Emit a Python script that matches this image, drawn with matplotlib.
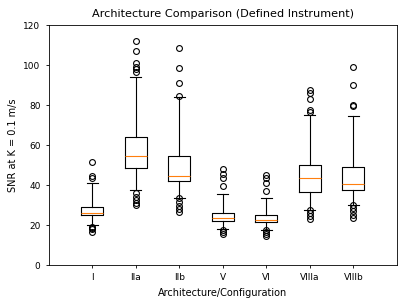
import matplotlib
matplotlib.use('Agg')
import matplotlib.pyplot as plt

# Configuration labels
labels = ['I', 'IIa', 'IIb', 'V', 'VI', 'VIIIa', 'VIIIb']

# Box statistics
q1 = [24.8, 48.7, 42.0, 22.0, 21.5, 36.5, 37.3]
medians = [26.2, 54.5, 44.7, 23.7, 22.7, 43.7, 40.7]
q3 = [29.2, 63.8, 54.7, 26.2, 25.0, 50.0, 48.8]
whislo = [20.0, 37.5, 33.3, 17.8, 17.5, 27.5, 30.0]
whishi = [41.0, 94.2, 84.2, 35.7, 33.7, 74.8, 74.3]

# Outliers
fliers = [
    [43.7, 44.7, 51.3, 19.2, 18.5, 17.8, 16.7],
    [96.7, 97.8, 99.2, 100.8, 107.2, 111.8, 35.8, 34.0, 32.5, 31.0, 30.0],
    [84.7, 90.8, 98.7, 108.3, 33.5, 31.5, 29.5, 28.0, 26.7],
    [39.7, 43.3, 45.5, 47.8, 17.5, 16.5, 15.5],
    [37.2, 41.2, 43.5, 45.0, 17.5, 16.5, 15.5, 14.5],
    [76.7, 77.5, 82.8, 85.8, 87.5, 27.5, 26.0, 24.5, 23.0],
    [79.7, 80.2, 90.2, 98.8, 30.0, 28.5, 27.0, 25.0, 23.5],
]

stats = []
for i in range(len(labels)):
    stats.append({'label': labels[i], 'q1': q1[i], 'med': medians[i], 'q3': q3[i],
                  'whislo': whislo[i], 'whishi': whishi[i], 'fliers': fliers[i]})

fig, ax = plt.subplots(figsize=(4.07, 3.05), dpi=100)
lw = 0.8
ax.bxp(stats, positions=range(1, len(labels) + 1), widths=0.5,
       boxprops=dict(linewidth=lw),
       whiskerprops=dict(linewidth=lw),
       capprops=dict(linewidth=lw),
       medianprops=dict(color='#ff7f0e', linewidth=lw),
       flierprops=dict(marker='o', markersize=4.2, markerfacecolor='none',
                       markeredgecolor='black', markeredgewidth=0.8))

ax.set_xlim(0, 8)
ax.set_ylim(0, 120)
ax.set_xticks(range(1, len(labels) + 1))
ax.set_xticklabels(labels)
ax.tick_params(labelsize=6.5, width=0.6, length=2.5)
for s in ax.spines.values():
    s.set_linewidth(0.6)
ax.set_xlabel('Architecture/Configuration', fontsize=7)
ax.set_ylabel('SNR at K = 0.1 m/s', fontsize=7)
ax.set_title('Architecture Comparison (Defined Instrument)', fontsize=8.1)

fig.subplots_adjust(left=0.12, right=0.975, bottom=0.131, top=0.918)
fig.savefig('out.png')
